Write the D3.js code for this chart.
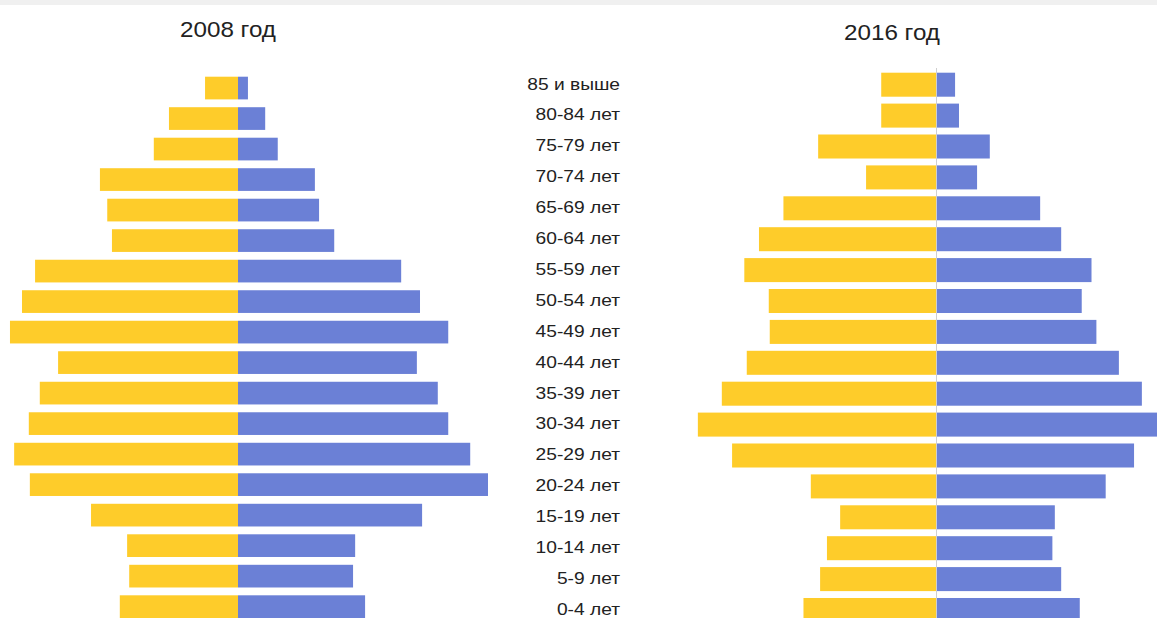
<!DOCTYPE html>
<html>
<head>
<meta charset="utf-8">
<script src="https://cdn.jsdelivr.net/npm/d3@7"></script>
<style>
  html, body { margin: 0; padding: 0; background: #fff; overflow: hidden; }
  text { font-family: "Liberation Sans", Arial, sans-serif; fill: #222; }
</style>
</head>
<body>
<div id="chart"></div>
<script>
// age groups, top to bottom
const ageGroups = ['85 и выше', '80-84 лет', '75-79 лет', '70-74 лет', '65-69 лет', '60-64 лет',
  '55-59 лет', '50-54 лет', '45-49 лет', '40-44 лет', '35-39 лет', '30-34 лет',
  '25-29 лет', '20-24 лет', '15-19 лет', '10-14 лет', '5-9 лет', '0-4 лет'];

// share of population, %
const women2008 = [0.63, 1.32, 1.61, 2.64, 2.50, 2.41, 3.88, 4.13, 4.36, 3.44, 3.79, 4.00, 4.28, 3.98, 2.81, 2.12, 2.08, 2.26];
const men2008   = [0.19, 0.52, 0.76, 1.47, 1.55, 1.84, 3.12, 3.48, 4.02, 3.42, 3.82, 4.02, 4.44, 4.78, 3.52, 2.24, 2.20, 2.43];
const women2016 = [1.12, 1.12, 2.41, 1.43, 3.12, 3.62, 3.92, 3.42, 3.40, 3.87, 4.38, 4.87, 4.17, 2.56, 1.96, 2.23, 2.37, 2.71];
const men2016   = [0.39, 0.47, 1.10, 0.84, 2.13, 2.56, 3.18, 2.98, 3.28, 3.74, 4.21, 4.62, 4.05, 3.47, 2.43, 2.38, 2.56, 2.94];

const titles = ['2008 год', '2016 год'];

const w = 1157;
const h = 618;
const yellow = '#fecc2a';
const blue = '#6b80d6';

const svg = d3.select('#chart')
  .append('svg')
  .attr('width', w)
  .attr('height', h);

// light strip on top
svg.append('rect')
  .attr('x', 0).attr('y', 0)
  .attr('width', w).attr('height', 5)
  .attr('fill', '#f0f0f0');

const charts = [
  { title: titles[0], women: women2008, men: men2008, center: 238, pxPer: 52.3,
    yRange: [76.7, 618], pad: 0.256, titleX: 228, titleY: 37, axisLine: false },
  { title: titles[1], women: women2016, men: men2016, center: 936, pxPer: 48.9,
    yRange: [72.7, 622], pad: 0.223, titleX: 892, titleY: 40, axisLine: true }
];

charts.forEach(c => {
  const x = d3.scaleLinear()
    .domain([-5, 5])
    .range([c.center - 5 * c.pxPer, c.center + 5 * c.pxPer]);

  const y = d3.scaleBand()
    .domain(ageGroups)
    .range(c.yRange)
    .paddingInner(c.pad)
    .paddingOuter(0);

  const g = svg.append('g');

  g.selectAll('rect.women')
    .data(ageGroups)
    .join('rect')
    .attr('class', 'women')
    .attr('x', (d, i) => x(-c.women[i]))
    .attr('y', d => y(d))
    .attr('width', (d, i) => x(0) - x(-c.women[i]))
    .attr('height', y.bandwidth())
    .attr('fill', yellow);

  g.selectAll('rect.men')
    .data(ageGroups)
    .join('rect')
    .attr('class', 'men')
    .attr('x', x(0))
    .attr('y', d => y(d))
    .attr('width', (d, i) => x(c.men[i]) - x(0))
    .attr('height', y.bandwidth())
    .attr('fill', blue);

  if (c.axisLine) {
    g.append('line')
      .attr('x1', x(0) + 0.5).attr('x2', x(0) + 0.5)
      .attr('y1', 68).attr('y2', h)
      .attr('stroke', '#cfcfcf')
      .attr('stroke-width', 1);
  }

  svg.append('text')
    .attr('transform', 'translate(' + c.titleX + ',' + c.titleY + ') scale(1.1,1)')
    .attr('text-anchor', 'middle')
    .attr('font-size', 22)
    .text(c.title);
});

// age labels in the middle
const yLab = d3.scaleBand()
  .domain(ageGroups)
  .range([68.5, 68.5 + 18 * 30.9]);

svg.selectAll('text.age')
  .data(ageGroups)
  .join('text')
  .attr('class', 'age')
  .attr('transform', d => 'translate(620,' + (yLab(d) + yLab.bandwidth() / 2) + ') scale(1.2,1)')
  .attr('text-anchor', 'end')
  .attr('dy', '0.35em')
  .attr('font-size', 16)
  .text(d => d);
</script>
</body>
</html>
